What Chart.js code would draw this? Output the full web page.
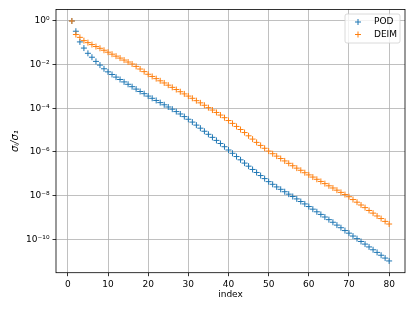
<!DOCTYPE html>
<html>
<head>
<meta charset="utf-8">
<script src="https://cdn.jsdelivr.net/npm/chart.js@4.4.0/dist/chart.umd.min.js"></script>
<style>
  html, body { margin: 0; padding: 0; background: #fff; }
  #wrap { width: 415px; height: 311px; }
</style>
</head>
<body>
<div id="wrap"><canvas id="chart" width="415" height="311"></canvas></div>
<script>
// singular value decay, sigma_i / sigma_1, index 1..80
const podValues = [
    1.00e0, 3.39e-1, 1.10e-1, 5.75e-2, 3.31e-2, 2.19e-2, 1.41e-2, 9.55e-3, 6.46e-3, 4.68e-3,
    3.55e-3, 2.69e-3, 2.09e-3, 1.62e-3, 1.26e-3, 9.77e-4, 7.59e-4, 5.89e-4, 4.68e-4, 3.63e-4,
    2.88e-4, 2.29e-4, 1.82e-4, 1.45e-4, 1.15e-4, 9.12e-5, 7.08e-5, 5.50e-5, 4.17e-5, 3.16e-5,
    2.34e-5, 1.70e-5, 1.23e-5, 8.91e-6, 6.46e-6, 4.68e-6, 3.39e-6, 2.45e-6, 1.74e-6, 1.23e-6,
    8.71e-7, 6.17e-7, 4.37e-7, 3.09e-7, 2.24e-7, 1.58e-7, 1.15e-7, 8.32e-8, 6.03e-8, 4.37e-8,
    3.31e-8, 2.51e-8, 1.95e-8, 1.51e-8, 1.17e-8, 9.12e-9, 7.08e-9, 5.37e-9, 4.17e-9, 3.16e-9,
    2.40e-9, 1.82e-9, 1.38e-9, 1.05e-9, 7.94e-10, 6.03e-10, 4.47e-10, 3.39e-10, 2.51e-10, 1.91e-10,
    1.41e-10, 1.07e-10, 7.94e-11, 6.03e-11, 4.47e-11, 3.31e-11, 2.51e-11, 1.86e-11, 1.38e-11, 1.02e-11
];
const deimValues = [
    1.00e0, 2.40e-1, 1.78e-1, 1.26e-1, 1.02e-1, 8.32e-2, 6.76e-2, 5.62e-2, 4.57e-2, 3.72e-2,
    3.02e-2, 2.45e-2, 2.00e-2, 1.62e-2, 1.32e-2, 1.07e-2, 8.32e-3, 6.31e-3, 4.79e-3, 3.63e-3,
    2.88e-3, 2.29e-3, 1.82e-3, 1.45e-3, 1.15e-3, 9.12e-4, 7.24e-4, 5.75e-4, 4.57e-4, 3.63e-4,
    2.88e-4, 2.24e-4, 1.78e-4, 1.38e-4, 1.07e-4, 8.32e-5, 6.46e-5, 4.90e-5, 3.72e-5, 2.75e-5,
    2.04e-5, 1.48e-5, 1.07e-5, 7.76e-6, 5.50e-6, 3.89e-6, 2.75e-6, 2.00e-6, 1.48e-6, 1.10e-6,
    8.32e-7, 6.46e-7, 5.01e-7, 3.89e-7, 3.02e-7, 2.34e-7, 1.82e-7, 1.45e-7, 1.12e-7, 8.91e-8,
    7.08e-8, 5.62e-8, 4.47e-8, 3.55e-8, 2.82e-8, 2.24e-8, 1.78e-8, 1.41e-8, 1.12e-8, 8.91e-9,
    6.61e-9, 5.01e-9, 3.72e-9, 2.82e-9, 2.09e-9, 1.58e-9, 1.17e-9, 8.91e-10, 6.61e-10, 5.01e-10
];
const xTickValues = [0, 10, 20, 30, 40, 50, 60, 70, 80];
const yTickValues = [1e-10, 1e-8, 1e-6, 1e-4, 1e-2, 1];
const yTickLabels = ['10\u207B\u00B9\u2070', '10\u207B\u2078', '10\u207B\u2076', '10\u207B\u2074', '10\u207B\u00B2', '10\u2070'];
const seriesNames = ['POD', 'DEIM'];
const seriesColors = ['#1f77b4', '#ff7f0e'];

const FONT = "'DejaVu Sans', sans-serif";

function toPoints(values) {
    return values.map((v, i) => ({ x: i + 1, y: v }));
}

// frame, axis labels and legend, drawn like matplotlib does
const extras = {
    id: 'extras',
    afterDraw(chart) {
        const { ctx, chartArea: a } = chart;
        ctx.save();
        ctx.strokeStyle = '#000';
        ctx.lineWidth = 0.8;
        ctx.strokeRect(a.left, a.top, a.right - a.left, a.bottom - a.top);

        ctx.fillStyle = '#000';
        ctx.font = '9px ' + FONT;
        ctx.textAlign = 'center';
        ctx.textBaseline = 'middle';
        ctx.fillText('index', (a.left + a.right) / 2, 295);

        ctx.save();
        ctx.translate(15, (a.top + a.bottom) / 2);
        ctx.rotate(-Math.PI / 2);
        ctx.font = 'italic 10px ' + FONT;
        ctx.fillText('\u03C3\u1D62/\u03C3\u2081', 0, 0);
        ctx.restore();

        // legend box
        const bx = 345, by = 14, bw = 55, bh = 29;
        ctx.fillStyle = 'rgba(255,255,255,0.8)';
        ctx.strokeStyle = '#d0d0d0';
        ctx.lineWidth = 0.8;
        ctx.beginPath();
        ctx.roundRect(bx, by, bw, bh, 2);
        ctx.fill();
        ctx.stroke();
        ctx.textAlign = 'left';
        ctx.font = '9px ' + FONT;
        seriesNames.forEach((name, k) => {
            const yy = by + 8 + k * 12.5;
            ctx.strokeStyle = seriesColors[k];
            ctx.lineWidth = 1;
            ctx.beginPath();
            ctx.moveTo(358 - 3, yy); ctx.lineTo(358 + 3, yy);
            ctx.moveTo(358, yy - 3); ctx.lineTo(358, yy + 3);
            ctx.stroke();
            ctx.fillStyle = '#000';
            ctx.fillText(name, 374, yy);
        });
        ctx.restore();
    }
};

new Chart(document.getElementById('chart'), {
    type: 'scatter',
    data: {
        datasets: [
            {
                label: seriesNames[0],
                data: toPoints(podValues),
                order: 2,
                pointStyle: 'cross',
                pointRadius: 3,
                pointBorderWidth: 1,
                borderColor: seriesColors[0],
                backgroundColor: seriesColors[0],
            },
            {
                label: seriesNames[1],
                data: toPoints(deimValues),
                order: 1,
                pointStyle: 'cross',
                pointRadius: 3,
                pointBorderWidth: 1,
                borderColor: seriesColors[1],
                backgroundColor: seriesColors[1],
            }
        ]
    },
    options: {
        responsive: false,
        animation: false,
        devicePixelRatio: 1,
        layout: { padding: { top: 9.5, right: 10, left: 0, bottom: 0 } },
        plugins: {
            legend: { display: false },
            tooltip: { enabled: false },
        },
        scales: {
            x: {
                type: 'linear',
                min: -2.95,
                max: 83.95,
                afterBuildTicks: (s) => { s.ticks = xTickValues.map(v => ({ value: v })); },
                afterFit: (s) => { s.height = 38.3; },
                grid: { color: '#b0b0b0', lineWidth: 0.8, tickColor: '#000', tickLength: 3.5 },
                border: { display: false },
                ticks: { color: '#000', font: { family: FONT, size: 9 }, padding: 3, maxRotation: 0 },
            },
            y: {
                type: 'logarithmic',
                min: 2.95e-12,
                max: 3.36,
                afterBuildTicks: (s) => { s.ticks = yTickValues.map(v => ({ value: v })); },
                afterFit: (s) => { s.width = 56; },
                grid: { color: '#b0b0b0', lineWidth: 0.8, tickColor: '#000', tickLength: 3.5 },
                border: { display: false },
                ticks: {
                    color: '#000',
                    font: { family: FONT, size: 9 },
                    padding: 3,
                    callback: (v) => {
                        const k = yTickValues.findIndex(t => Math.abs(Math.log10(t) - Math.log10(v)) < 1e-6);
                        return k >= 0 ? yTickLabels[k] : '';
                    }
                },
            }
        }
    },
    plugins: [extras]
});
</script>
</body>
</html>
